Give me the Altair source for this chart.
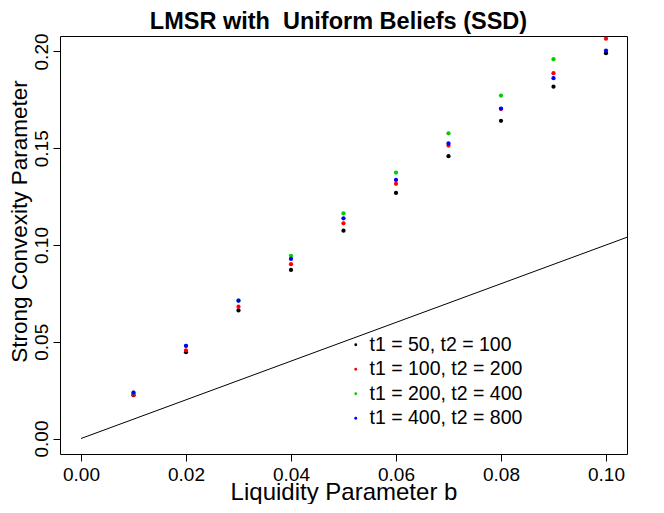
import altair as alt
import pandas as pd

# ---- data ----
b_values = [0.01, 0.02, 0.03, 0.04, 0.05, 0.06, 0.07, 0.08, 0.09, 0.10]
series_labels = [
    "t1 = 50, t2 = 100",
    "t1 = 100, t2 = 200",
    "t1 = 200, t2 = 400",
    "t1 = 400, t2 = 800",
]
series_colors = ["#000000", "#FF0000", "#00CD00", "#0000FF"]

scp_50_100 = [0.0224, 0.0446, 0.0662, 0.0871, 0.1074, 0.1269, 0.1459, 0.1642, 0.1818, 0.1991]
scp_100_200 = [0.0225, 0.0455, 0.0681, 0.0901, 0.1112, 0.1316, 0.1514, 0.1703, 0.1888, 0.2066]
scp_200_400 = [0.0237, 0.0479, 0.0713, 0.0944, 0.1164, 0.1374, 0.1577, 0.1772, 0.1960, 0.2150]
scp_400_800 = [0.0237, 0.0479, 0.0712, 0.0928, 0.1138, 0.1336, 0.1525, 0.1705, 0.1862, 0.2005]

ref_b = [0.0, 0.2]
ref_scp = [0.0, 0.2]

x_ticks = [0.0, 0.02, 0.04, 0.06, 0.08, 0.10]
y_ticks = [0.0, 0.05, 0.10, 0.15, 0.20]

title_text = ["LMSR with \u00a0Uniform Beliefs (SSD)"]

FONT = "Liberation Sans"

rows = []
for lab, vals in zip(series_labels, [scp_50_100, scp_100_200, scp_200_400, scp_400_800]):
    for b, v in zip(b_values, vals):
        rows.append({"b": b, "scp": v, "series": lab})
df = pd.DataFrame(rows)
line_df = pd.DataFrame({"b": ref_b, "scp": ref_scp})
title_df = pd.DataFrame({"t": title_text})

xscale = alt.Scale(domain=[-0.004, 0.104], nice=False, zero=False)
yscale = alt.Scale(domain=[-0.008, 0.208], nice=False, zero=False)

xaxis = alt.Axis(
    values=x_ticks, format=".2f", title="Liquidity Parameter b",
    domain=False, grid=False, ticks=True, tickSize=7, tickColor="black",
    labelFont=FONT, labelFontSize=19, labelColor="black",
    labelBaseline="alphabetic", labelPadding=19, labelFlush=False, labelOverlap=False,
    titleFont=FONT, titleFontSize=24, titleFontWeight="normal", titleColor="black",
    titleBaseline="alphabetic", titleY=45,
)
yaxis = alt.Axis(
    values=y_ticks, format=".2f", title="Strong Convexity Parameter",
    domain=False, grid=False, ticks=True, tickSize=7, tickColor="black",
    labelFont=FONT, labelFontSize=19, labelColor="black",
    labelAngle=270, labelAlign="center", labelBaseline="alphabetic",
    labelPadding=6, labelFlush=False, labelOverlap=False,
    titleFont=FONT, titleFontSize=22.5, titleFontWeight="normal", titleColor="black",
    titleAngle=270, titleAlign="center", titleBaseline="alphabetic",
    titleX=-34, titleY=185,
)

points = alt.Chart(df).mark_circle(size=18, opacity=1, clip=True).encode(
    x=alt.X("b:Q", scale=xscale, axis=xaxis),
    y=alt.Y("scp:Q", scale=yscale, axis=yaxis),
    color=alt.Color(
        "series:N",
        scale=alt.Scale(domain=series_labels, range=series_colors),
        sort=series_labels,
        legend=alt.Legend(
            orient="none", legendX=286, legendY=299, title=None,
            symbolType="circle", symbolSize=8, symbolStrokeWidth=0,
            labelFont=FONT, labelFontSize=19.5, labelColor="black",
            labelOffset=4, rowPadding=3.5, padding=0,
        ),
    ),
)

ref_line = alt.Chart(line_df).mark_line(color="black", strokeWidth=1, clip=True).encode(
    x=alt.X("b:Q", scale=xscale),
    y=alt.Y("scp:Q", scale=yscale),
)

title_mark = alt.Chart(title_df).mark_text(
    font=FONT, fontSize=23.5, fontWeight="bold", color="black",
    align="center", baseline="alphabetic",
).encode(
    text="t:N",
    x=alt.value(278.5),
    y=alt.value(-7),
)

chart = (
    alt.layer(points, ref_line, title_mark)
    .properties(
        width=567,
        height=418,
        background="white",
        autosize=alt.AutoSizeParams(type="none"),
        padding={"left": 52, "top": 28, "right": 27, "bottom": 50},
    )
    .configure_view(stroke="black", strokeWidth=1)
)

chart.save("out.html", embed_options={"renderer": "svg", "actions": False})
